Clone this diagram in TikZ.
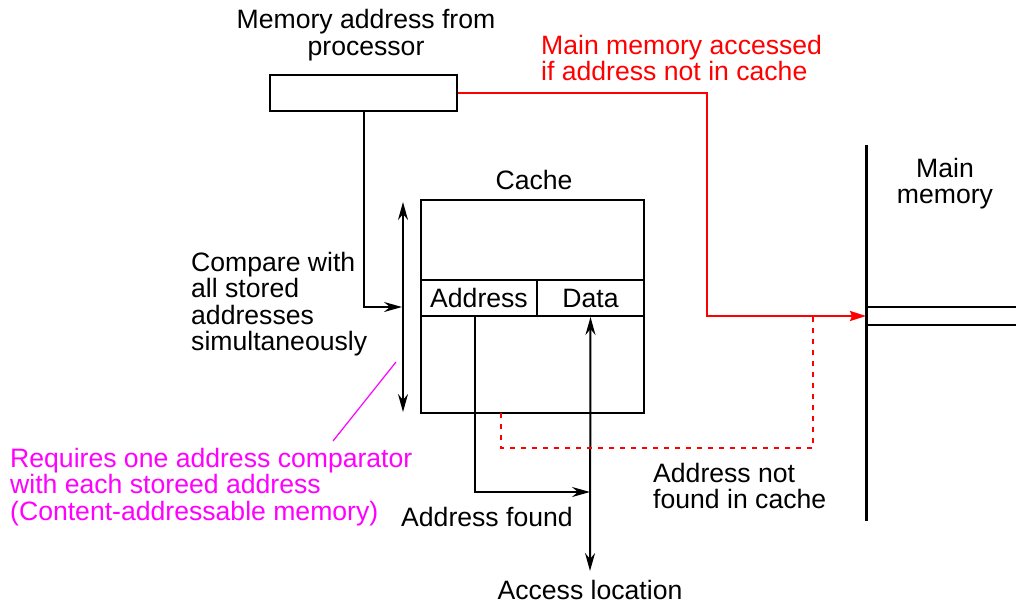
\documentclass[tikz,border=0pt]{standalone}
\usepackage{fontspec}
\setmainfont{Liberation Sans}
\usetikzlibrary{arrows.meta}

\definecolor{missred}{RGB}{255,0,0}
\definecolor{notemag}{RGB}{255,0,255}

\tikzset{
  lbl/.style={font=\fontsize{26.6}{26.4}\selectfont, inner sep=0pt},
  wire/.style={line width=2pt, black},
  missline/.style={line width=2pt, missred},
  missdot/.style={line width=2pt, missred, dash pattern=on 5pt off 6pt},
  blk/.style={draw, line width=2pt, inner sep=0pt},
  >={Stealth[length=18pt,width=10pt,inset=6pt]},
  redtip/.style={-{Stealth[length=16pt,width=10pt,inset=2pt]}}
}

\begin{document}
\begin{tikzpicture}[x=1pt,y=-1pt]
\useasboundingbox (0,0) rectangle (1016,603);

% processor address register
\node[blk, minimum width=187pt, minimum height=36pt] (proc) at (363.5,93) {};
\node[lbl, align=center] (proctitle) at (366,35) {Memory address from\\processor};

% cache with its address/data row
\node[blk, minimum width=223pt, minimum height=213pt] (cache) at (532.5,306.5) {};
\node[blk, lbl, minimum width=116pt, minimum height=36pt] (addr) at (479,298) {Address};
\node[blk, lbl, minimum width=107pt, minimum height=36pt] (data) at (590.5,298) {Data};
\node[lbl] (cachetitle) at (534,180) {Cache};

% main memory
\coordinate (mmtop) at (866,145);
\coordinate (mmbot) at (866,521);
\draw[line width=3pt] (mmtop) -- (mmbot);
\draw[wire] (866,307) -- (1016,307);
\draw[wire] (866,325) -- (1016,325);
\node[lbl, align=center] (mmtitle) at (945,183.5) {Main\\memory};

% comparison path
\coordinate (cmpin) at (402,307);
\coordinate (cmptop) at (403,202);
\coordinate (cmpbot) at (403,412);
\draw[wire,->] (proc.south) |- (cmpin);
\draw[wire,<->] (cmptop) -- (cmpbot);
\node[lbl, align=left, anchor=west] (cmptext) at (191,304) {Compare with\\all stored\\addresses\\simultaneously};

% hit path
\coordinate (hit) at (590,492);
\coordinate (acctip) at (590,571);
\draw[wire,->] ([xshift=-4pt]addr.south) |- (hit);
\draw[wire,<->] (acctip) -- (data.south);
\node[lbl, anchor=west] (foundtext) at (401,517) {Address found};
\node[lbl] (acctext) at (590,590) {Access location};

% miss path
\coordinate (turn) at (707,316);
\coordinate (mmin) at (866,316);
\draw[missline, redtip] (proc.east) -| (turn) -- (mmin);
\node[lbl, align=left, anchor=west, text=missred] (misstext) at (541,58) {Main memory accessed\\if address not in cache};
\coordinate (dotstart) at (501,413);
\coordinate (dotcorner) at (813,448);
\coordinate (dotend) at (813,316);
\draw[missdot] (dotstart) |- (dotcorner) -- (dotend);
\node[lbl, align=left, anchor=west] (notfound) at (653,486) {Address not\\found in cache};

% note on comparators
\coordinate (notetip) at (396,362);
\coordinate (notefoot) at (333,441);
\draw[notemag, line width=1.2pt] (notetip) -- (notefoot);
\node[lbl, align=left, anchor=west, text=notemag] (note) at (10,487) {Requires one address comparator\\with each storeed address\\(Content-addressable memory)};
\end{tikzpicture}
\end{document}
